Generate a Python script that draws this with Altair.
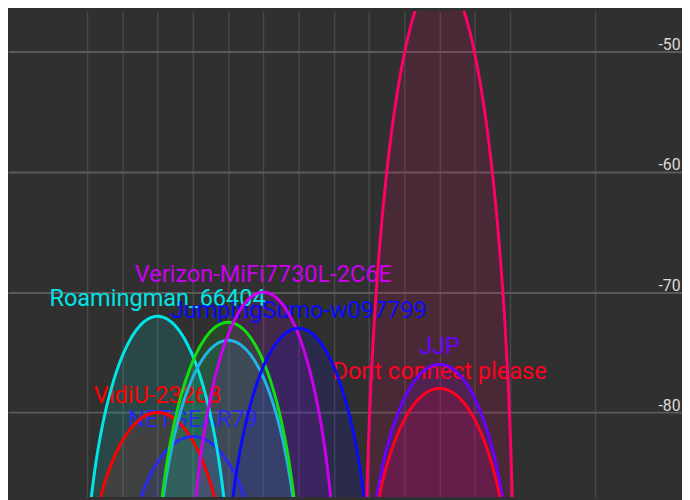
import altair as alt
import pandas as pd

# Networks (drawing order)
names = ["", "JJP", "Dont connect please", "VidiU-23268", "NETGEAR79",
         "Roamingman_66404", "", "", "Verizon-MiFi7730L-2C6E", "JumpingSumo-w097799"]
channels = [11, 11, 11, 3, 4, 3, 5, 5, 6, 7]
levels = [-43.5, -76.0, -78.0, -80.0, -82.0, -72.0, -74.0, -72.5, -70.0, -73.0]
colors = ["#ff0066", "#6a00ff", "#ff0022", "#ff0000", "#2a2aee",
          "#00e5e5", "#22b4e6", "#11dd11", "#cc00ee", "#0a0aff"]

# grid channels (MHz) and level ticks
grid_freqs = [2412, 2417, 2422, 2427, 2432, 2437, 2442, 2447, 2452, 2457, 2462, 2467, 2472, 2484]
level_ticks = [-80, -70, -60, -50]

df = pd.DataFrame({
    "id": list(range(len(names))),
    "name": names,
    "channel": channels,
    "level": levels,
    "color": colors,
})

xs = alt.Scale(domain=[2400.785, 2496.393], nice=False, zero=False)
ys = alt.Scale(domain=[-87.04, -46.61], nice=False, zero=False)

xaxis = alt.Axis(values=grid_freqs, grid=True, gridColor="#484848", gridWidth=1.5,
                 labels=False, ticks=False, domain=False, title=None)
yaxis = alt.Axis(values=level_ticks, orient="right", grid=True, gridColor="#5a5a5a",
                 gridWidth=2, ticks=False, domain=False, title=None,
                 labelAlign="right", labelPadding=-2, labelColor="#dcdcdc",
                 labelFont="Roboto", labelFontSize=16, labelBaseline="alphabetic",
                 labelOffset=-2, labelExpr="'' + datum.value")

base = alt.Chart(df).transform_calculate(
    freq="2407 + 5 * datum.channel",
    deg="sequence(0, 180.5, 1)",
).transform_flatten(["deg"]).transform_calculate(
    fx="datum.freq - 10.6 * cos(datum.deg * PI / 180)",
    fy="-100 + (datum.level + 100) * sin(datum.deg * PI / 180)",
)

areas = base.mark_area(clip=True, fillOpacity=0.13, strokeWidth=0).encode(
    x=alt.X("fx:Q", scale=xs, axis=xaxis),
    y=alt.Y("fy:Q", scale=ys, axis=yaxis),
    y2=alt.datum(-100),
    fill=alt.Fill("color:N", scale=None),
    detail="id:N",
)

lines = base.mark_line(clip=True, strokeWidth=3).encode(
    x=alt.X("fx:Q", scale=xs, axis=xaxis),
    y=alt.Y("fy:Q", scale=ys, axis=yaxis),
    stroke=alt.Stroke("color:N", scale=None),
    detail="id:N",
    order="deg:Q",
)

texts = alt.Chart(df).transform_calculate(
    freq="2407 + 5 * datum.channel",
).mark_text(font="Roboto", fontSize=23.8, baseline="alphabetic", align="center", dy=-10).encode(
    x=alt.X("freq:Q", scale=xs, axis=xaxis),
    y=alt.Y("level:Q", scale=ys, axis=yaxis),
    text="name:N",
    color=alt.Color("color:N", scale=None),
)

chart = alt.layer(areas, texts, lines).properties(
    width=682, height=492,
    autosize=alt.AutoSizeParams(type="none"),
    padding=0,
    background="#303030",
).configure_view(stroke="transparent")

chart.save("out.html", embed_options={"renderer": "svg", "actions": False})
